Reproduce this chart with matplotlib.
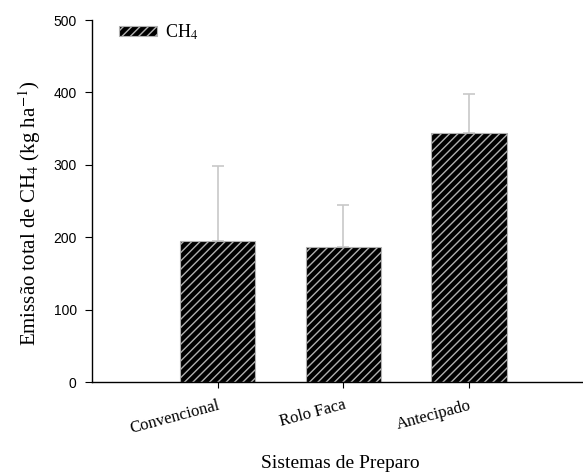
import matplotlib
matplotlib.use("Agg")
import matplotlib.pyplot as plt
import numpy as np

categories = ["Convencional", "Rolo Faca", "Antecipado"]
ch4_values = [195, 186, 344]
ch4_errors = [104, 58, 54]
yticks = [0, 100, 200, 300, 400, 500]

plt.rcParams['hatch.color'] = '#b0b0b0'
plt.rcParams['hatch.linewidth'] = 1.0

fig = plt.figure(figsize=(5.83, 4.73), dpi=100)
ax = fig.add_axes([92/583, 1-382/473, 1-92/583, (382-20)/473])

x = np.arange(1, len(categories)+1)
bars = ax.bar(x, ch4_values, width=0.6, color='black', edgecolor='#b0b0b0',
              linewidth=0.8, hatch='////', label='CH$_4$', zorder=2)
ax.errorbar(x, ch4_values, yerr=[np.zeros(len(ch4_errors)), ch4_errors], fmt='none',
            ecolor='#c8c8c8', elinewidth=1.2, capsize=4.5, capthick=1.2, zorder=1)

ax.set_xlim(0, 3.906)
ax.set_ylim(0, 500)
ax.set_yticks(yticks)
ax.set_yticklabels([str(t) for t in yticks], fontfamily='Liberation Sans', fontsize=10)
ax.set_xticks(x)
ax.set_xticklabels(categories, fontfamily='Liberation Serif', fontsize=12,
                   rotation=15, ha='right', va='top', rotation_mode='anchor')
ax.tick_params(axis='y', direction='out', length=5, width=0.8, pad=6)
ax.tick_params(axis='x', direction='out', length=4, width=0.8, pad=7)
for s in ['top', 'right']:
    ax.spines[s].set_visible(False)
for s in ['left', 'bottom']:
    ax.spines[s].set_linewidth(1.0)

fig.text(30/583, 1-213/473, 'Emissão total de CH$_4$ (kg ha$^{-1}$)', rotation=90,
         ha='center', va='center', fontfamily='Liberation Serif', fontsize=15,
         math_fontfamily='stix')
fig.text(340/583, 1-463/473, 'Sistemas de Preparo', ha='center', va='center',
         fontfamily='Liberation Serif', fontsize=14)

leg = ax.legend(loc='upper left', bbox_to_anchor=(0.022, 1.038), frameon=False,
                prop={'family': 'Liberation Serif', 'size': 13},
                handlelength=2.1, handleheight=0.5, handletextpad=0.45)
leg.get_texts()[0].set_math_fontfamily('stix')

fig.savefig('out.png', dpi=100)
